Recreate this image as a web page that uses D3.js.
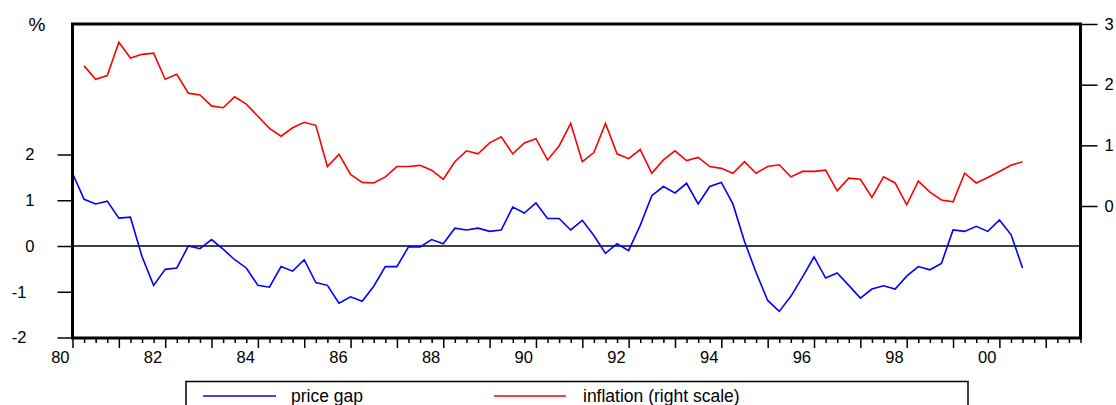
<!DOCTYPE html>
<html>
<head>
<meta charset="utf-8">
<script src="https://cdn.jsdelivr.net/npm/d3@7"></script>
<style>
  html, body { margin: 0; padding: 0; background: #fff; }
  svg { display: block; font-family: "Liberation Sans", Arial, sans-serif; }
</style>
</head>
<body>
<svg id="chart" width="1116" height="405"></svg>
<script>
// ---- data (quarterly, starting 1980Q1) ----
const startYear = 1980;
const priceGap = [1.59, 1.02, 0.92, 0.98, 0.61, 0.63, -0.23, -0.86, -0.51, -0.48,
  0.00, -0.06, 0.14, -0.07, -0.30, -0.48, -0.86, -0.90, -0.45, -0.55,
  -0.30, -0.80, -0.86, -1.25, -1.11, -1.21, -0.88, -0.45, -0.45, -0.02,
  -0.02, 0.14, 0.05, 0.39, 0.35, 0.39, 0.32, 0.35, 0.85, 0.72,
  0.94, 0.60, 0.60, 0.35, 0.56, 0.23, -0.16, 0.05, -0.10, 0.45,
  1.10, 1.30, 1.16, 1.37, 0.92, 1.30, 1.39, 0.92, 0.10, -0.58,
  -1.19, -1.43, -1.10, -0.68, -0.24, -0.70, -0.59, -0.86, -1.14, -0.94,
  -0.87, -0.94, -0.66, -0.45, -0.52, -0.38, 0.35, 0.32, 0.43, 0.32,
  0.57, 0.25, -0.48];
const inflation = [null, 2.31, 2.09, 2.15, 2.70, 2.44, 2.50, 2.52, 2.09, 2.17,
  1.86, 1.83, 1.65, 1.62, 1.80, 1.68, 1.48, 1.28, 1.15, 1.29,
  1.38, 1.33, 0.65, 0.85, 0.52, 0.39, 0.38, 0.48, 0.65, 0.65,
  0.67, 0.59, 0.44, 0.73, 0.91, 0.86, 1.04, 1.14, 0.86, 1.04,
  1.11, 0.76, 0.99, 1.36, 0.73, 0.88, 1.36, 0.86, 0.78, 0.93,
  0.54, 0.76, 0.91, 0.75, 0.80, 0.65, 0.62, 0.54, 0.73, 0.54,
  0.65, 0.68, 0.48, 0.57, 0.57, 0.59, 0.25, 0.46, 0.44, 0.14,
  0.48, 0.38, 0.02, 0.41, 0.23, 0.10, 0.07, 0.54, 0.38, 0.47,
  0.57, 0.67, 0.73];
const leftTicks = [-2, -1, 0, 1, 2];
const rightTicks = [0, 1, 2, 3];
const yearLabels = [1980, 1982, 1984, 1986, 1988, 1990, 1992, 1994, 1996, 1998, 2000];
const seriesNames = ["price gap", "inflation (right scale)"];
const seriesColors = ["#0000ff", "#ff0000"];

// time of each observation
const times = priceGap.map((_, i) => startYear + i / 4);

const svg = d3.select("#chart");
const L = 72.5, R = 1080.5, T = 24, B = 338;
const fmt = d => String(d); // plain hyphen-minus as in the original

const x = d3.scaleLinear().domain([1980, 2001.75]).range([L, R]);
const yL = d3.scaleLinear().domain([-2, 2]).range([337.5, 154.5]);
const yR = d3.scaleLinear().domain([0, 3]).range([206, 24]);

// zero line
svg.append("line")
  .attr("x1", L).attr("x2", R)
  .attr("y1", yL(0)).attr("y2", yL(0))
  .attr("stroke", "#000").attr("stroke-width", 1.5);

// lines
const lineL = d3.line().defined(d => d[1] != null).x(d => x(d[0])).y(d => yL(d[1]));
const lineR = d3.line().defined(d => d[1] != null).x(d => x(d[0])).y(d => yR(d[1]));

svg.append("path")
  .datum(times.map((t, i) => [t, inflation[i]]))
  .attr("d", lineR).attr("fill", "none")
  .attr("stroke", seriesColors[1]).attr("stroke-width", 1.6).attr("stroke-linejoin", "miter");

svg.append("path")
  .datum(times.map((t, i) => [t, priceGap[i]]))
  .attr("d", lineL).attr("fill", "none")
  .attr("stroke", seriesColors[0]).attr("stroke-width", 1.6).attr("stroke-linejoin", "miter");

// frame
svg.append("rect")
  .attr("x", L).attr("y", T).attr("width", R - L).attr("height", B - T)
  .attr("fill", "none").attr("stroke", "#000").attr("stroke-width", 3);

// left axis
const gL = svg.append("g").attr("transform", `translate(${L},0)`)
  .call(d3.axisLeft(yL).tickValues(leftTicks).tickSize(15).tickPadding(0).tickFormat(fmt));
gL.select(".domain").remove();
gL.selectAll(".tick line").attr("stroke-width", 1.5);
gL.selectAll(".tick text")
  .attr("x", d => d < 0 ? -46 : -38)
  .attr("font-size", 16.5).attr("font-family", "Liberation Sans, Arial, sans-serif")
  .attr("fill", "#000");

// right axis
const gR = svg.append("g").attr("transform", `translate(${R},0)`)
  .call(d3.axisRight(yR).tickValues(rightTicks).tickSize(17).tickPadding(7).tickFormat(fmt));
gR.select(".domain").remove();
gR.selectAll(".tick line").attr("stroke-width", 1.5);
gR.selectAll(".tick text")
  .attr("font-size", 16.5).attr("font-family", "Liberation Sans, Arial, sans-serif")
  .attr("fill", "#000");

// bottom axis: quarterly minor ticks, yearly major ticks
const quarterTicks = d3.range(0, 88).map(i => startYear + i / 4).filter(t => t <= 2001.75);
const yearTicks = quarterTicks.filter(t => Number.isInteger(t));
const gB = svg.append("g").attr("transform", `translate(0,${B})`);
gB.call(d3.axisBottom(x).tickValues(quarterTicks.filter(t => !Number.isInteger(t))).tickSize(5).tickFormat(""));
gB.select(".domain").remove();
const gB2 = svg.append("g").attr("transform", `translate(0,${B})`);
gB2.call(d3.axisBottom(x).tickValues(yearTicks).tickSize(10).tickFormat(""));
gB2.select(".domain").remove();
svg.selectAll("g .tick line").attr("stroke-width", 1.5);

svg.append("g").selectAll("text").data(yearLabels).join("text")
  .attr("x", d => x(d) - 3).attr("y", 363)
  .attr("text-anchor", "end")
  .attr("font-size", 16.5).attr("fill", "#000")
  .text(d => d3.format("02d")(d % 100));

// % label
svg.append("text").attr("x", 37).attr("y", 31).attr("text-anchor", "middle")
  .attr("font-size", 19).attr("fill", "#000").text("%");

// legend
const lg = svg.append("g");
lg.append("rect").attr("x", 186).attr("y", 381.5).attr("width", 782).attr("height", 40)
  .attr("fill", "#fff").attr("stroke", "#000").attr("stroke-width", 1.5);
const legendItems = [
  { name: seriesNames[0], color: seriesColors[0], x1: 203, x2: 276, tx: 291 },
  { name: seriesNames[1], color: seriesColors[1], x1: 494, x2: 566, tx: 583 }
];
legendItems.forEach(it => {
  lg.append("line").attr("x1", it.x1).attr("x2", it.x2).attr("y1", 396).attr("y2", 396)
    .attr("stroke", it.color).attr("stroke-width", 1.5);
  lg.append("text").attr("x", it.tx).attr("y", 402).attr("font-size", 17.5)
    .attr("fill", "#000").text(it.name);
});
</script>
</body>
</html>
